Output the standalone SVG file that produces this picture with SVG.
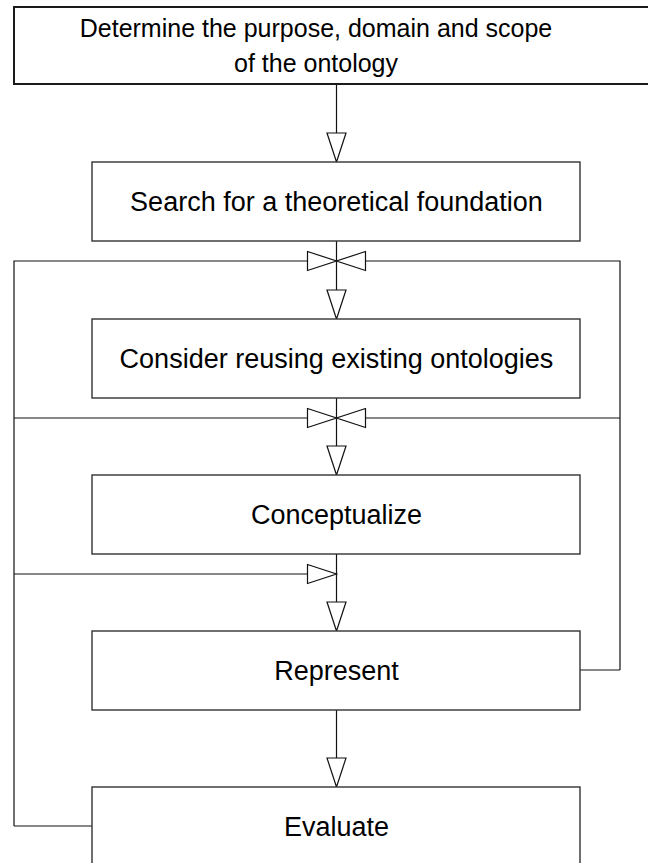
<svg xmlns="http://www.w3.org/2000/svg" width="648" height="863" viewBox="0 0 648 863">
  <defs>
    <style>
      .box { fill: #ffffff; stroke: #333333; stroke-width: 1.4; }
      .top { fill: #ffffff; stroke: #1a1a1a; stroke-width: 2; }
      .wire { fill: none; stroke: #111111; stroke-width: 1.2; }
      .head { fill: #ffffff; stroke: #111111; stroke-width: 1.2; stroke-linejoin: miter; }
      .label { font-family: "Liberation Sans", Arial, sans-serif; font-size: 27px; fill: #000000; text-anchor: middle; }
      .title { font-family: "Liberation Sans", Arial, sans-serif; font-size: 25px; fill: #000000; text-anchor: middle; }
    </style>
    <!-- open triangle heads, tip at the origin -->
    <polygon id="down" class="head" points="-9.5,-29 9.5,-29 0,0"/>
    <polygon id="right" class="head" points="-29,-9.5 -29,9.5 0,0"/>
    <polygon id="left" class="head" points="29,-9.5 29,9.5 0,0"/>
  </defs>

  <rect width="648" height="863" fill="#ffffff"/>

  <!-- connectors -->
  <g id="connectors">
    <line class="wire" x1="336.5" y1="84" x2="336.5" y2="134"/>
    <use href="#down" x="336.5" y="162"/>

    <!-- loop between search and reuse -->
    <line class="wire" x1="336.5" y1="241" x2="336.5" y2="290"/>
    <polyline class="wire" points="14,826 14,261 307.5,261"/>
    <polyline class="wire" points="620,670 620,261 365.5,261"/>
    <use href="#right" x="336.5" y="261"/>
    <use href="#left" x="336.5" y="261"/>
    <use href="#down" x="336.5" y="319"/>

    <!-- loop between reuse and conceptualize -->
    <line class="wire" x1="336.5" y1="398" x2="336.5" y2="446"/>
    <line class="wire" x1="14" y1="418" x2="307.5" y2="418"/>
    <line class="wire" x1="365.5" y1="418" x2="620" y2="418"/>
    <use href="#right" x="336.5" y="418"/>
    <use href="#left" x="336.5" y="418"/>
    <use href="#down" x="336.5" y="475"/>

    <!-- feedback into represent -->
    <line class="wire" x1="336.5" y1="554" x2="336.5" y2="602"/>
    <line class="wire" x1="14" y1="574" x2="307.5" y2="574"/>
    <use href="#right" x="336.5" y="574"/>
    <use href="#down" x="336.5" y="631"/>

    <!-- represent to evaluate -->
    <line class="wire" x1="336.5" y1="710" x2="336.5" y2="758"/>
    <use href="#down" x="336.5" y="787"/>

    <!-- side returns -->
    <line class="wire" x1="580" y1="670" x2="620" y2="670"/>
    <line class="wire" x1="14" y1="826" x2="92" y2="826"/>
  </g>

  <g id="purpose">
    <rect class="top" x="14" y="7" width="660" height="77"/>
    <text class="title" x="316" y="37">Determine the purpose, domain and scope</text>
    <text class="title" x="316" y="72">of the ontology</text>
  </g>

  <g id="foundation">
    <rect class="box" x="92" y="162" width="488" height="79"/>
    <text class="label" x="336.5" y="211">Search for a theoretical foundation</text>
  </g>

  <g id="reuse">
    <rect class="box" x="92" y="319" width="488" height="79"/>
    <text class="label" x="336.5" y="368">Consider reusing existing ontologies</text>
  </g>

  <g id="conceptualize">
    <rect class="box" x="92" y="475" width="488" height="79"/>
    <text class="label" x="336.5" y="524">Conceptualize</text>
  </g>

  <g id="represent">
    <rect class="box" x="92" y="631" width="488" height="79"/>
    <text class="label" x="336.5" y="680">Represent</text>
  </g>

  <g id="evaluate">
    <rect class="box" x="92" y="787" width="488" height="79"/>
    <text class="label" x="336.5" y="836">Evaluate</text>
  </g>
</svg>
